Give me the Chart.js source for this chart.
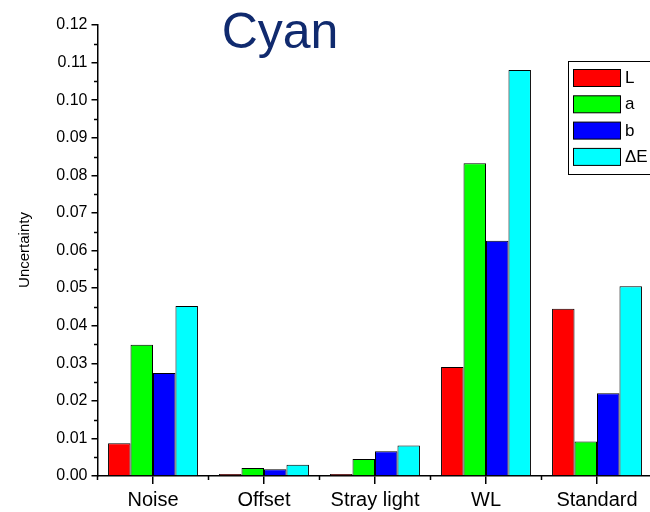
<!DOCTYPE html>
<html>
<head>
<meta charset="utf-8">
<script src="https://cdn.jsdelivr.net/npm/chart.js@4/dist/chart.umd.min.js"></script>
<style>
html,body{margin:0;padding:0;background:#fff;overflow:hidden;width:650px;height:512px;}
#wrap{width:660px;height:512px;}
</style>
</head>
<body>
<div id="wrap"><canvas id="c" width="660" height="512"></canvas></div>
<script>
const categories = ["Noise", "Offset", "Stray light", "WL", "Standard"];
const seriesL  = [0.0087, 0.0005, 0.0005, 0.0290, 0.0445];
const seriesA  = [0.0349, 0.0021, 0.0045, 0.0832, 0.0092];
const seriesB  = [0.0274, 0.0018, 0.0066, 0.0626, 0.0220];
const seriesDE = [0.0452, 0.0030, 0.0081, 0.1080, 0.0505];
const seriesNames = ["L", "a", "b", "\u0394E"];
const yTickValues = [0,0.01,0.02,0.03,0.04,0.05,0.06,0.07,0.08,0.09,0.10,0.11,0.12];
const titleText = "Cyan";
const yTitle = "Uncertainty";

const colors = ["#FF0000", "#00FF00", "#0000FF", "#00FFFF"];
const FONT = "'Liberation Sans', Arial, sans-serif";

const extras = {
  id: 'extras',
  afterDraw(chart) {
    const ctx = chart.ctx;
    const ca = chart.chartArea;
    const y = chart.scales.y, x = chart.scales.x;
    ctx.save();
    ctx.strokeStyle = '#000';
    ctx.lineWidth = 1.5;
    // minor y ticks
    for (let i = 0; i < yTickValues.length - 1; i++) {
      const v = (yTickValues[i] + yTickValues[i + 1]) / 2;
      const py = Math.round(y.getPixelForValue(v)) + 0.5;
      ctx.beginPath(); ctx.moveTo(ca.left - 3.5, py); ctx.lineTo(ca.left, py); ctx.stroke();
    }
    // minor x ticks at category boundaries
    for (let i = 0; i <= categories.length; i++) {
      const px = i === 0 ? ca.left : (x.getPixelForValue(i - 1) + x.getPixelForValue(Math.min(i, categories.length - 1))) / 2;
      let bx = px;
      if (i === categories.length) bx = ca.right;
      ctx.beginPath(); ctx.moveTo(bx, ca.bottom); ctx.lineTo(bx, ca.bottom + 4); ctx.stroke();
    }
    // title
    ctx.fillStyle = '#102A6E';
    ctx.font = "50px " + FONT;
    ctx.textAlign = 'center';
    ctx.textBaseline = 'middle';
    ctx.fillText(titleText, 280, 34);
    // y title
    ctx.save();
    ctx.translate(25, 250);
    ctx.rotate(-Math.PI / 2);
    ctx.fillStyle = '#000';
    ctx.font = "15px " + FONT;
    ctx.fillText(yTitle, 0, 0);
    ctx.restore();
    // legend
    ctx.lineWidth = 1;
    ctx.strokeStyle = '#000';
    ctx.fillStyle = '#fff';
    ctx.fillRect(568.5, 61.5, 100, 113);
    ctx.strokeRect(568.5, 61.5, 100, 113);
    ctx.font = "17px " + FONT;
    ctx.textAlign = 'left';
    chart.data.datasets.forEach((ds, i) => {
      const top = 69 + i * 26.3;
      ctx.fillStyle = ds.backgroundColor;
      ctx.fillRect(573.5, top + 0.5, 47, 17);
      ctx.strokeRect(573.5, top + 0.5, 47, 17);
      ctx.fillStyle = '#000';
      ctx.fillText(ds.label, 625, top + 9.5);
    });
    ctx.restore();
  }
};

new Chart(document.getElementById('c'), {
  type: 'bar',
  data: {
    labels: categories,
    datasets: [seriesL, seriesA, seriesB, seriesDE].map((d, i) => ({
      label: seriesNames[i],
      data: d,
      backgroundColor: colors[i],
      borderColor: '#000',
      borderWidth: 1,
      categoryPercentage: 0.81,
      barPercentage: 1.0
    }))
  },
  options: {
    responsive: false,
    animation: false,
    layout: { padding: { top: 25, right: 7.5, left: 0, bottom: 0 } },
    plugins: { legend: { display: false }, title: { display: false }, tooltip: { enabled: false } },
    scales: {
      x: {
        grid: { offset: false, drawOnChartArea: false, drawTicks: true, tickLength: 8, color: '#000', lineWidth: 1.5 },
        border: { display: true, color: '#000', width: 1.5 },
        ticks: { color: '#000', font: { family: FONT, size: 20 }, padding: 4, maxRotation: 0, autoSkip: false },
        afterFit(s) { s.height = 36; }
      },
      y: {
        min: 0, max: 0.12,
        afterBuildTicks(s) { s.ticks = yTickValues.map(v => ({ value: v })); },
        grid: { drawOnChartArea: false, drawTicks: true, tickLength: 6, color: '#000', lineWidth: 1.5 },
        border: { display: true, color: '#000', width: 1.5 },
        ticks: { color: '#000', font: { family: FONT, size: 16 }, padding: 4, callback: v => Number(v).toFixed(2) },
        afterFit(s) { s.width = 97.5; }
      }
    }
  },
  plugins: [extras]
});
</script>
</body>
</html>
